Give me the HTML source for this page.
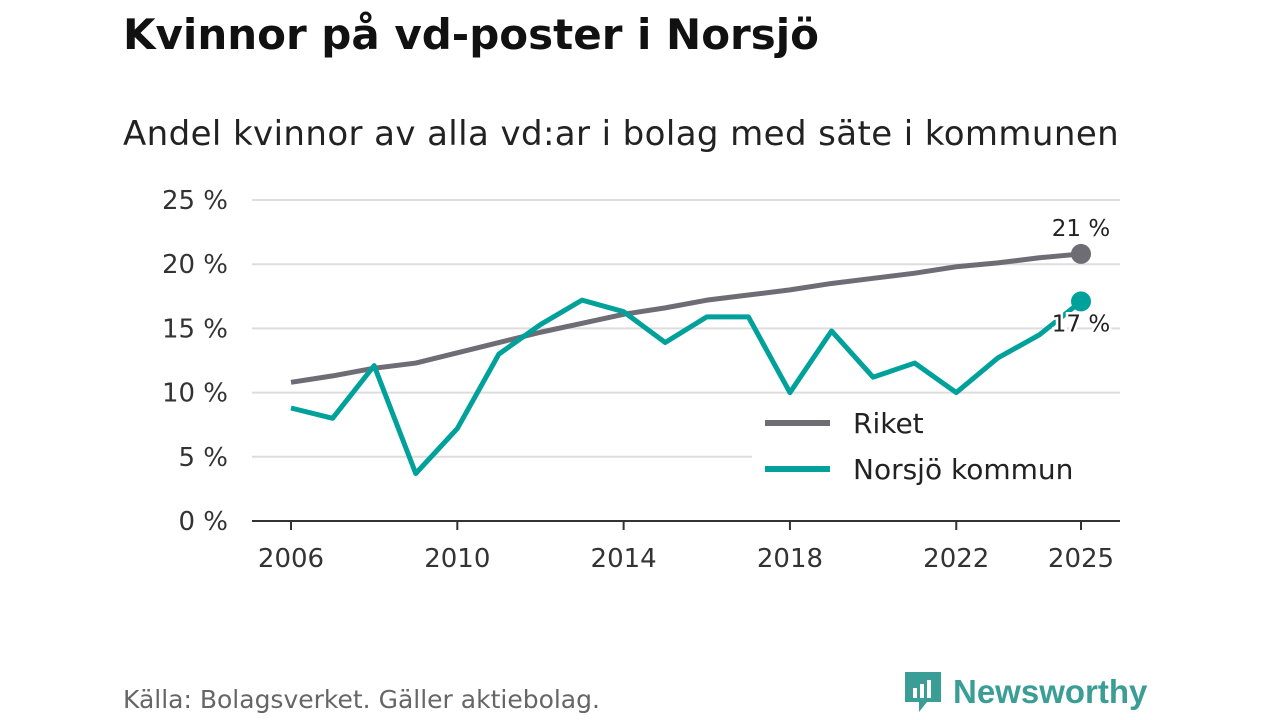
<!DOCTYPE html>
<html><head><meta charset="utf-8"><style>
body{margin:0;width:1280px;height:720px;background:#fff;font-family:"DejaVu Sans","Liberation Sans",sans-serif;overflow:hidden;position:relative}
h1{position:absolute;left:123px;top:10px;margin:0;font-size:42px;font-weight:bold;color:#111;letter-spacing:0px}
.sub{position:absolute;left:123px;top:114px;font-size:34px;color:#222;letter-spacing:0.4px}
.src{position:absolute;left:123px;top:685px;font-size:25px;color:#666}
.logo{position:absolute;left:903px;top:670px;display:flex;align-items:center;gap:10px;color:#3a9e96;font-size:33px;font-weight:bold;font-family:"Liberation Sans",sans-serif}
</style></head><body>
<h1>Kvinnor på vd-poster i Norsjö</h1>
<div class="sub">Andel kvinnor av alla vd:ar i bolag med säte i kommunen</div>
<svg id="chart" width="1280" height="720" style="position:absolute;left:0;top:0"></svg>
<div class="src">Källa: Bolagsverket. Gäller aktiebolag.</div>
<div class="logo"><svg width="40" height="44"><path d="M2 2h36v30H24l-8 10v-10H2z" fill="#3a9e96"/><rect x="10" y="18" width="4" height="10" fill="#fff"/><rect x="17" y="14" width="4" height="14" fill="#fff"/><rect x="24" y="10" width="4" height="18" fill="#fff"/></svg><span>Newsworthy</span></div>
<script>
const years=[2006,2007,2008,2009,2010,2011,2012,2013,2014,2015,2016,2017,2018,2019,2020,2021,2022,2023,2024,2025];
const riket=[10.8,11.3,11.9,12.3,13.1,13.9,14.7,15.4,16.1,16.6,17.2,17.6,18.0,18.5,18.9,19.3,19.8,20.1,20.5,20.8];
const norsjo=[8.8,8.0,12.1,3.7,7.2,13.0,15.3,17.2,16.3,13.9,15.9,15.9,10.0,14.8,11.2,12.3,10.0,12.7,14.5,17.1];
const yTicks=[0,5,10,15,20,25];
const xTicks=[2006,2010,2014,2018,2022,2025];
const NS="http://www.w3.org/2000/svg",svg=document.getElementById('chart');
const x=v=>291+(v-2006)*(1081-291)/19, y=v=>521-v*(521-200)/25;
function el(t,a,p){const e=document.createElementNS(NS,t);for(const k in a)e.setAttribute(k,a[k]);(p||svg).appendChild(e);return e;}
yTicks.forEach(t=>{
 if(t>0){const g=el('line',{x1:252,x2:1120,y1:y(t),y2:y(t),stroke:'#ddd','stroke-width':2});
 
 }
 const l=el('text',{x:228,y:y(t)+9,'text-anchor':'end','font-size':26,fill:'#333'});l.textContent=t+' %';
 
 
});
const ax=el('line',{x1:252,x2:1120,y1:521,y2:521,stroke:'#333','stroke-width':2});


xTicks.forEach(t=>{
 el('line',{x1:x(t),x2:x(t),y1:521,y2:530,stroke:'#333','stroke-width':2});
 const l=el('text',{x:x(t),y:567,'text-anchor':'middle','font-size':26,fill:'#333'});l.textContent=t;
 
 
});
const pts=a=>a.map((v,i)=>x(years[i])+','+y(v)).join(' ');
const r=el('polyline',{points:pts(riket),fill:'none',stroke:'#6e6d75','stroke-width':5,'stroke-linejoin':'round'});


const n=el('polyline',{points:pts(norsjo),fill:'none',stroke:'#00a19a','stroke-width':5,'stroke-linejoin':'round'});


const L=riket.length-1;
const c1=el('circle',{cx:x(years[L]),cy:y(riket[L]),r:10,fill:'#6e6d75'});


const c2=el('circle',{cx:x(years[L]),cy:y(norsjo[L]),r:10,fill:'#00a19a'});


const t1=el('text',{x:x(years[L]),y:y(riket[L])-18,'text-anchor':'middle','font-size':23,fill:'#222',stroke:'#fff','stroke-width':5,'paint-order':'stroke'});t1.textContent=Math.round(riket[L])+' %';


const t2=el('text',{x:x(years[L]),y:y(norsjo[L])+30,'text-anchor':'middle','font-size':23,fill:'#222',stroke:'#fff','stroke-width':5,'paint-order':'stroke'});t2.textContent=Math.round(norsjo[L])+' %';


const lg=el('g',{});


el('rect',{x:752,y:402,width:370,height:90,fill:'#fff'},lg);
[['Riket','#6e6d75',423],['Norsjö kommun','#00a19a',469]].forEach(([nm,col,yy])=>{
 el('line',{x1:765,x2:830,y1:yy,y2:yy,stroke:col,'stroke-width':6},lg);
 const t=el('text',{x:853,y:yy+10,'font-size':28,fill:'#222'},lg);t.textContent=nm;
 
 
});
</script>
</body></html>
